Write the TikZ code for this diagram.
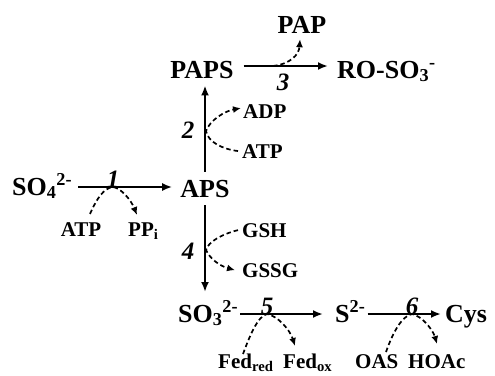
\documentclass[tikz,border=0pt]{standalone}
\usepackage{fontspec}
\setmainfont{Liberation Serif}
\usetikzlibrary{arrows.meta,calc}
\begin{document}
\begin{tikzpicture}[x=1pt,y=-1pt,
  big/.style={font=\fontsize{26}{28}\selectfont\bfseries, inner sep=0pt},
  small/.style={font=\fontsize{21}{23}\selectfont\bfseries, inner sep=0pt},
  num/.style={font=\fontsize{25}{27}\selectfont\bfseries\itshape, inner sep=0pt},
  main/.style={line width=2.1pt, -{Latex[length=10pt,width=8pt]}},
  side/.style={line width=1.7pt, dash pattern=on 4.5pt off 3pt, -{Latex[length=8pt,width=7pt]}},
]
\useasboundingbox (0,0) rectangle (495,375);
% main species
\node[big,anchor=base west] (so4) at (12,195) {SO\textsubscript{4}\textsuperscript{2-}};
\node[big,anchor=base] (aps) at (205,197) {APS};
\node[big,anchor=base] (paps) at (202,78) {PAPS};
\node[big,anchor=base] (pap) at (302,33) {PAP};
\node[big,anchor=base west] (roso) at (337,78) {RO-SO\textsubscript{3}\textsuperscript{-}};
\node[big,anchor=base west] (so3) at (178,322) {SO\textsubscript{3}\textsuperscript{2-}};
\node[big,anchor=base west] (s) at (335,322) {S\textsuperscript{2-}};
\node[big,anchor=base west] (cys) at (445,322) {Cys};
% cofactors
\node[small,anchor=base] (atp1) at (81,236) {ATP};
\node[small,anchor=base west] (ppi) at (128,236) {PP\textsubscript{i}};
\node[small,anchor=base west] (adp) at (243,118) {ADP};
\node[small,anchor=base west] (atp2) at (242,158) {ATP};
\node[small,anchor=base west] (gsh) at (242,237) {GSH};
\node[small,anchor=base west] (gssg) at (242,277) {GSSG};
\node[small,anchor=base west] (fedr) at (218,368) {Fed\textsubscript{red}};
\node[small,anchor=base west] (fedo) at (283,368) {Fed\textsubscript{ox}};
\node[small,anchor=base west] (oas) at (355,368) {OAS};
\node[small,anchor=base west] (hoac) at (408,368) {HOAc};
% step numbers
\node[num,anchor=base] (n1) at (113,187) {1};
\node[num,anchor=base] (n2) at (188,138) {2};
\node[num,anchor=base] (n3) at (283,90) {3};
\node[num,anchor=base] (n4) at (188,259) {4};
\node[num,anchor=base] (n5) at (267,314) {5};
\node[num,anchor=base] (n6) at (412,314) {6};
% main arrows
\draw[main] ($(so4.east |- n1.base)+(6,0)$) -- ($(aps.west |- n1.base)+(-8,0)$);
\draw[main] ($(aps.north)+(0,-8)$) -- ($(aps.north |- paps.south)+(0,7)$);
\draw[main] ($(paps.base east)+(10,-12)$) -- ($(roso.base west)+(-9,-12)$);
\draw[main] ($(aps.south)+(0,8)$) -- ($(aps.south |- so3.base)+(0,-30)$);
\draw[main] ($(so3.east |- n5.base)+(2,0)$) -- ($(s.west |- n5.base)+(-12,0)$);
\draw[main] ($(s.east |- n6.base)+(2,0)$) -- ($(cys.west |- n6.base)+(-4,0)$);
% cofactor arrows
\draw[side] ($(atp1.north)+(9,-8)$) .. controls (97,198) and (104,188) .. (n1.base) .. controls (121,188) and (131,200) .. (137,215);
\draw[side] ($(atp2.west)+(-4,0)$) .. controls (222,149) and (208,142) .. (206,131) .. controls (210,120) and (225,111) .. ($(adp.west)+(-2,-3)$);
\draw[side] (273,66) .. controls (290,64) and (299,55) .. ($(pap.south)+(-2,6)$);
\draw[side] ($(gsh.west)+(-4,0)$) .. controls (222,234) and (208,242) .. (206,250) .. controls (210,259) and (220,266) .. ($(gssg.west)+(-7,0)$);
\draw[side] (243,354) .. controls (250,335) and (258,316) .. (n5.base) .. controls (278,316) and (290,330) .. (295,346);
\draw[side] (386,352) .. controls (393,332) and (402,316) .. (n6.base) .. controls (422,316) and (433,330) .. (437,344);
\end{tikzpicture}
\end{document}
